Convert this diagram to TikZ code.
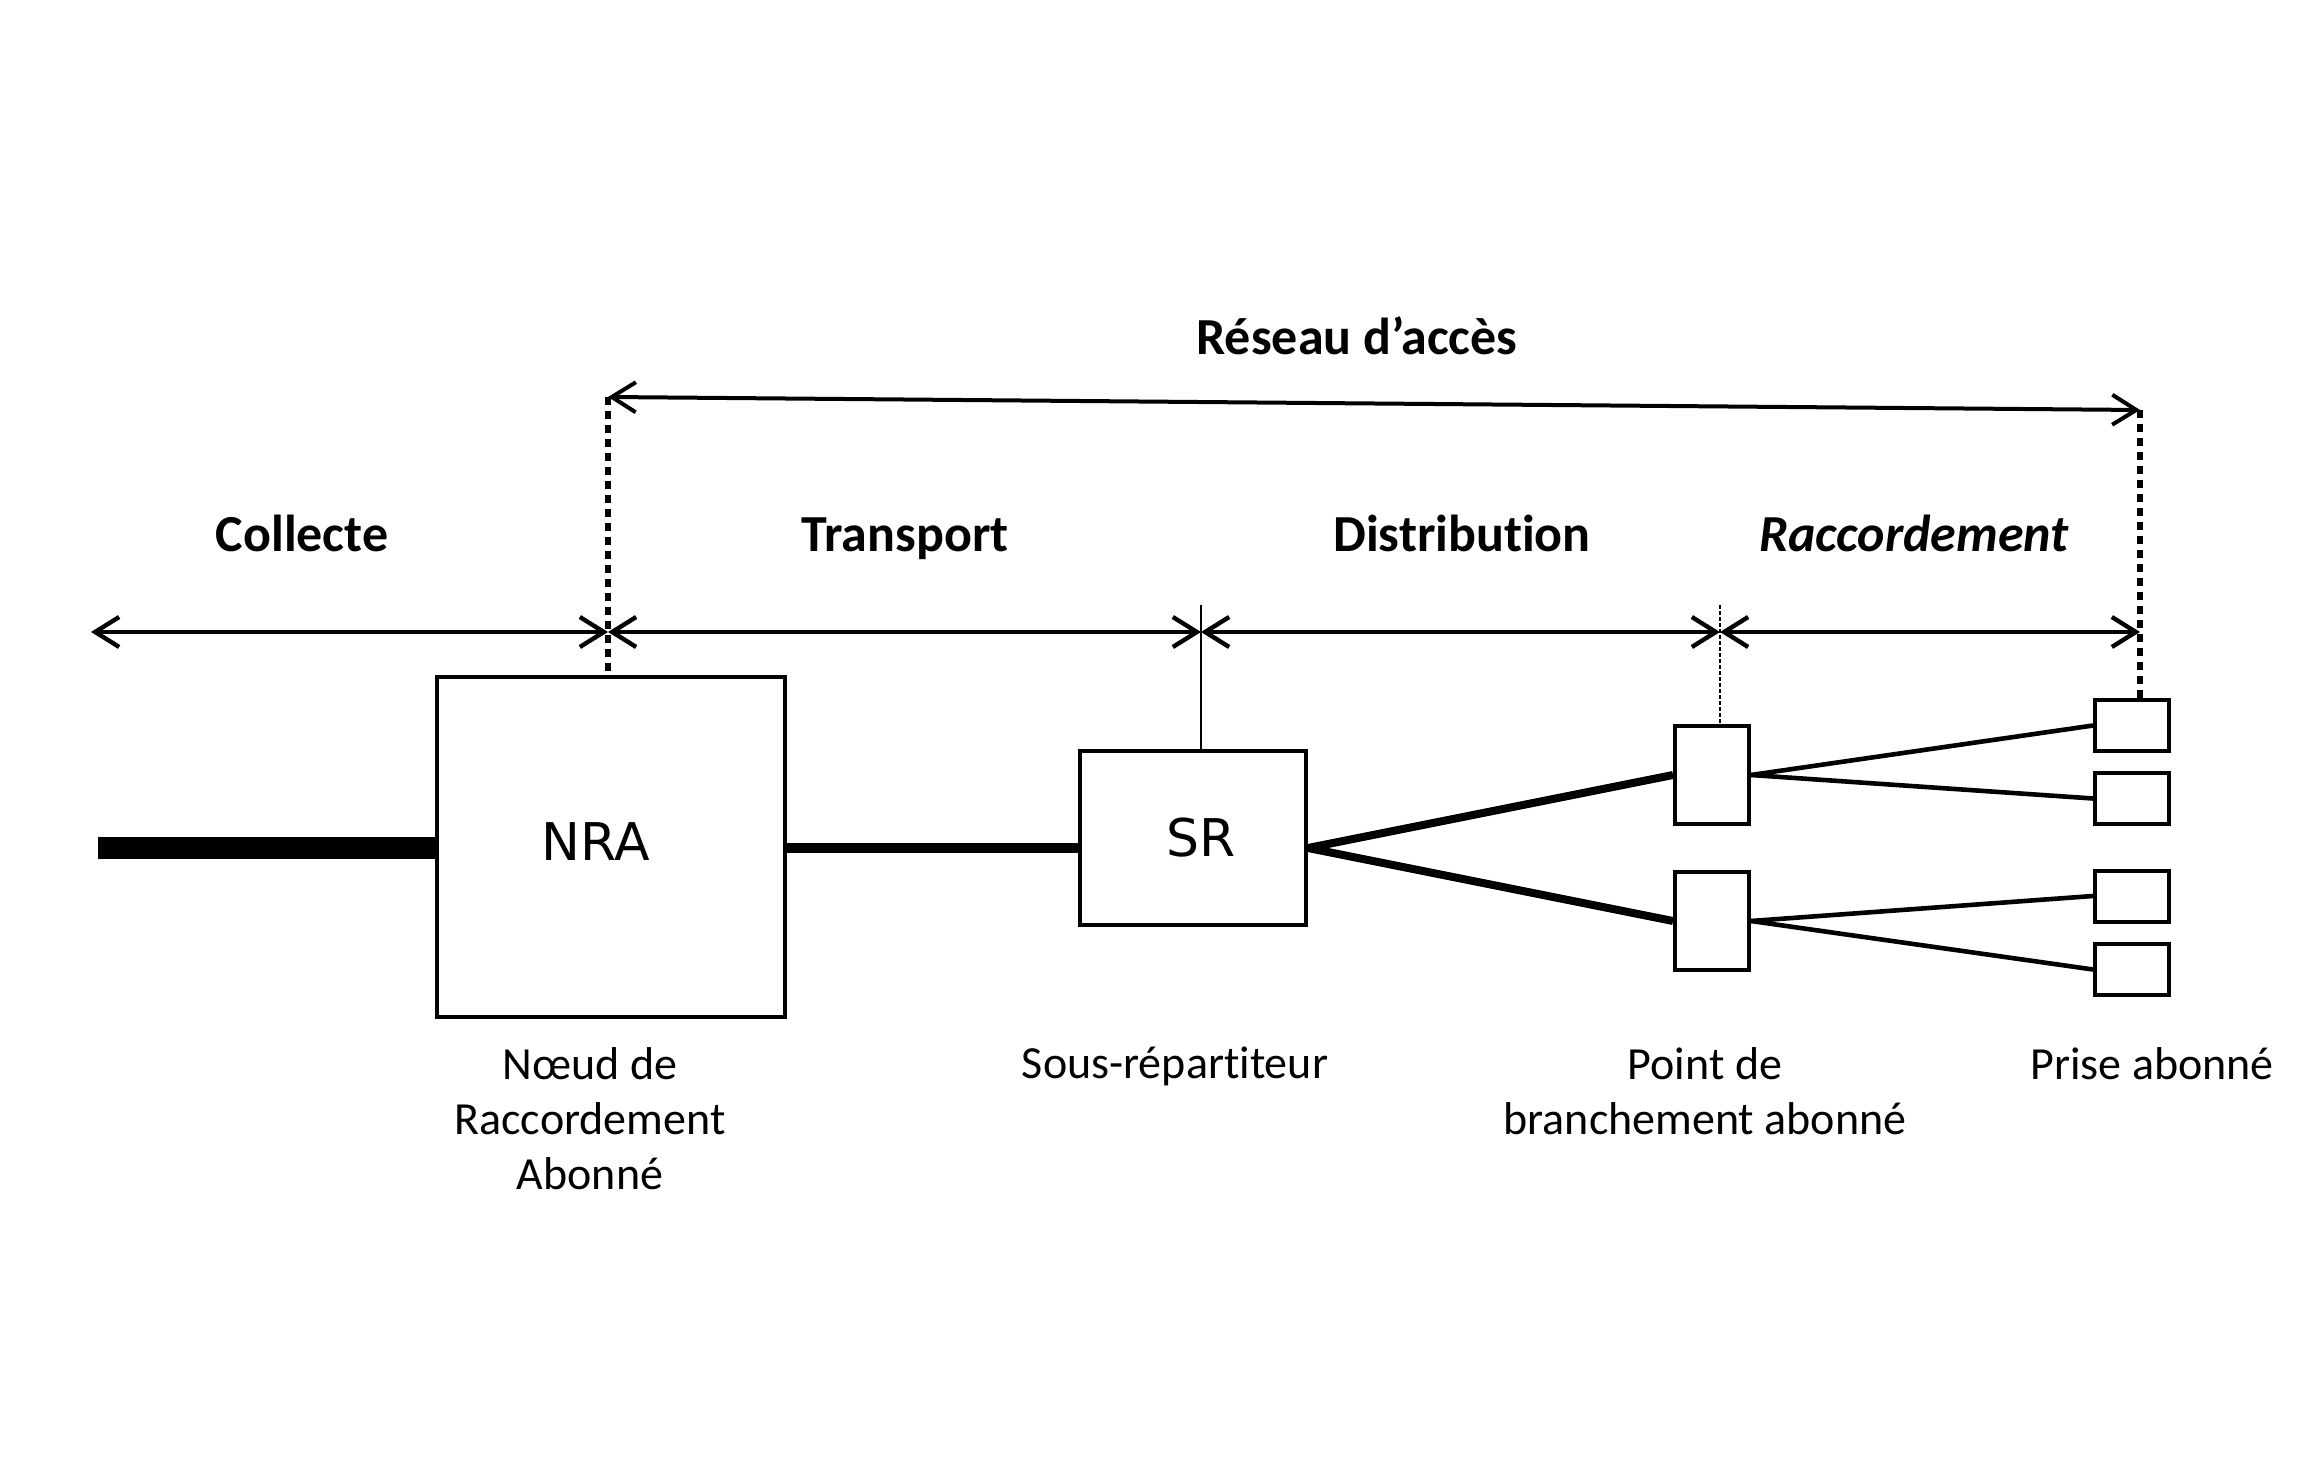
\documentclass[tikz,border=0pt]{standalone}
\usepackage{fontspec}
\setmainfont[Ligatures=NoCommon]{Carlito}
\newfontfamily\boxfont{DejaVu Sans}
\usetikzlibrary{arrows.meta,backgrounds}
\begin{document}
\begin{tikzpicture}[x=0.5pt,y=-0.5pt,
  box/.style={draw,line width=2pt,inner sep=0pt,fill=white},
  boxtext/.style={font=\boxfont\fontsize{26}{30}\selectfont,inner sep=0pt},
  seg/.style={line width=2.2pt,{Straight Barb[length=12pt,width=15pt]}-{Straight Barb[length=12pt,width=15pt]}},
  dotline/.style={line width=2.8pt,dash pattern=on 4pt off 3pt},
  toplabel/.style={font=\fontsize{26}{30}\selectfont\bfseries,anchor=base},
  botlabel/.style={font=\fontsize{23}{27.5}\selectfont,align=center,anchor=north},
  fibre/.style={line width=4pt},
  drop/.style={line width=2.3pt}]
\useasboundingbox (0,0) rectangle (2308,1459);

% boxes
\node[box,minimum width=174pt,minimum height=170pt] (NRA) at (611,847) {};
\node[boxtext] (NRAt) at (596,842) {NRA};
\node[box,minimum width=113pt,minimum height=87pt] (SR) at (1193,838) {};
\node[boxtext] (SRt) at (1201,838) {SR};
\node[box,minimum width=37pt,minimum height=49pt] (PB1) at (1712,775) {};
\node[box,minimum width=37pt,minimum height=49pt] (PB2) at (1712,921) {};
\node[box,minimum width=37pt,minimum height=25.5pt] (P1) at (2132,725.5) {};
\node[box,minimum width=37pt,minimum height=25.5pt] (P2) at (2132,798.5) {};
\node[box,minimum width=37pt,minimum height=25.5pt] (P3) at (2132,896) {};
\node[box,minimum width=37pt,minimum height=25.5pt] (P4) at (2132,969.5) {};

% cables
\begin{scope}[on background layer]
\fill[white] (0,0) rectangle (2308,1459);
\coordinate (in) at (98,848);
\draw[line width=11pt] (in) -- (NRA.west |- in);
\draw[line width=5pt] (NRA.east |- in) -- (SR.west |- in);
\coordinate (SRout) at (SR.east |- in);
\draw[fibre] (SRout) -- (PB1.west);
\draw[fibre] (SRout) -- (PB2.west);
\draw[drop] (PB1.east) -- (P1.west);
\draw[drop] (PB1.east) -- (P2.west);
\draw[drop] (PB2.east) -- (P3.west);
\draw[drop] (PB2.east) -- (P4.west);
\end{scope}

% segment arrows
\coordinate (c0) at (91,632);
\coordinate (c1) at (608,632);
\coordinate (c2) at (1201,632);
\coordinate (c3) at (1720,632);
\coordinate (c4) at (2140,632);
\draw[seg] (c0) -- (c1);
\draw[seg] (c1) -- (c2);
\draw[seg] (c2) -- (c3);
\draw[seg] (c3) -- (c4);

% access network arrow
\coordinate (a0) at (608,397);
\coordinate (a1) at (2140,410);
\draw[line width=2pt,{Straight Barb[length=12pt,width=15pt]}-{Straight Barb[length=12pt,width=15pt]}] (a0) -- (a1);
\draw[dotline] (a0) -- (NRA.north -| a0);
\draw[dotline] (a1) -- (P1.north -| a1);

% ticks
\coordinate (t2) at (1201,605);
\coordinate (t3) at (1720,605);
\draw[line width=1pt] (t2) -- (SR.north -| t2);
\draw[line width=1.1pt,dash pattern=on 2pt off 1pt] (t3) -- (PB1.north -| t3);

% labels
\node[toplabel] (reseau) at (1357,355) {Réseau d’accès};
\node[toplabel] (collecte) at (302,552) {Collecte};
\node[toplabel] (transport) at (905,552) {Transport};
\node[toplabel] (distribution) at (1462,552) {Distribution};
\node[toplabel,font=\fontsize{26}{30}\selectfont\bfseries\itshape] (raccord) at (1914,552) {Raccordement};

\node[botlabel] (lNRA) at (590,1040) {Nœud de\\Raccordement\\Abonné};
\node[botlabel] (lSR) at (1175,1040) {Sous-répartiteur};
\node[botlabel] (lPB) at (1705,1040) {Point de\\branchement abonné};
\node[botlabel] (lP) at (2152,1040) {Prise abonné};
\end{tikzpicture}
\end{document}
